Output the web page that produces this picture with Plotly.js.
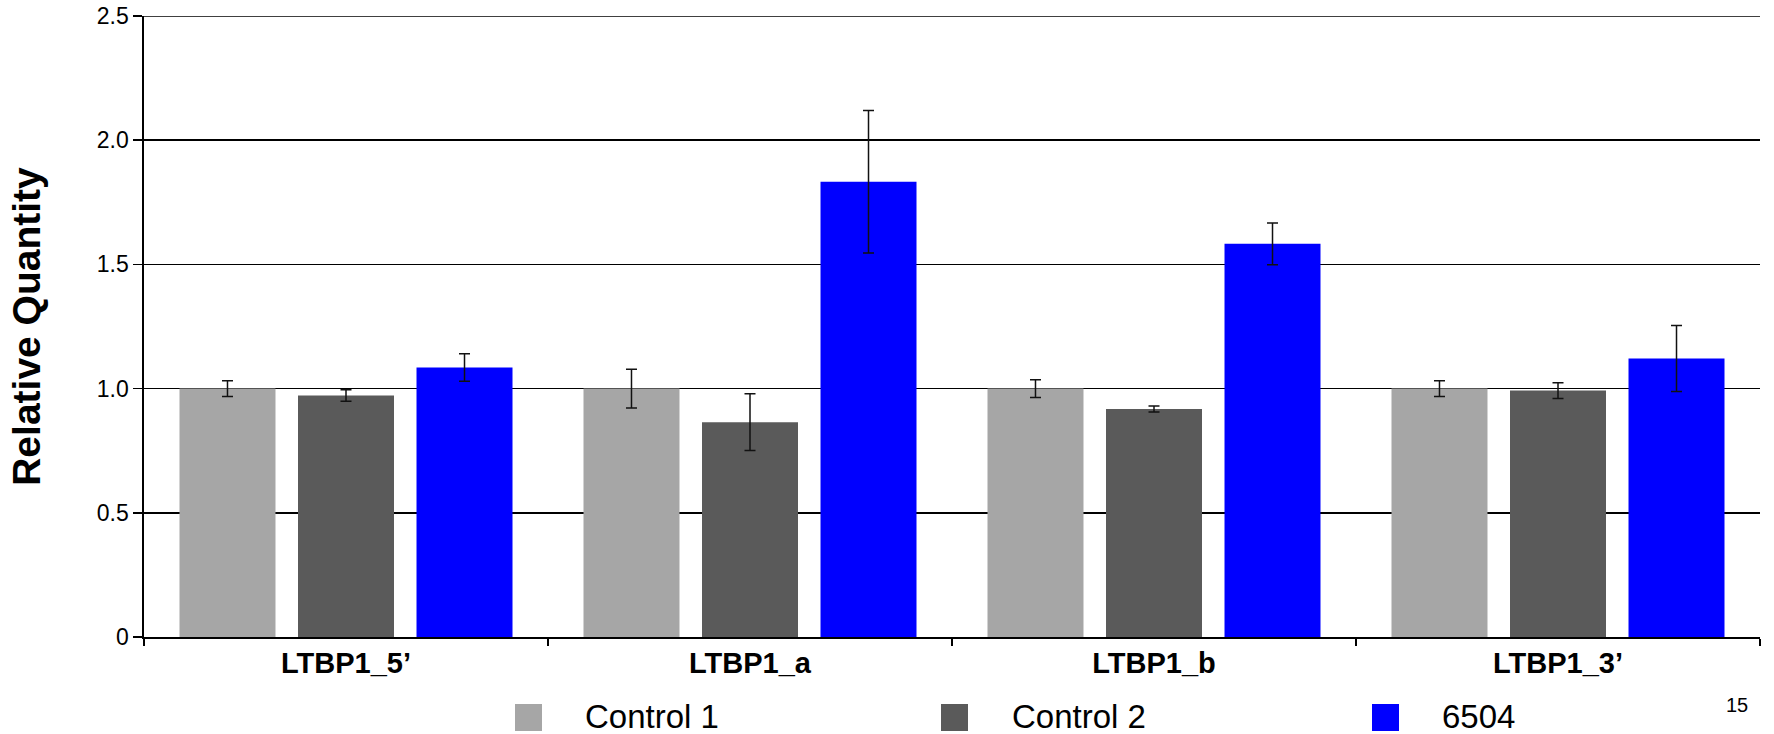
<!DOCTYPE html>
<html>
<head>
<meta charset="utf-8">
<script src="https://cdn.plot.ly/plotly-3.0.1.min.js"></script>
<style>html,body{margin:0;padding:0;background:#fff;}#chart{width:1774px;height:734px;}</style>
</head>
<body>
<div id="chart"></div>
<script>
// ---- data ----
const categories = ["LTBP1_5’", "LTBP1_a", "LTBP1_b", "LTBP1_3’"];
const seriesNames = ["Control 1", "Control 2", "6504"];
const control1 = [1.00, 1.00, 1.00, 1.00];
const control1Err = [0.032, 0.078, 0.036, 0.032];
const control2 = [0.972, 0.865, 0.918, 0.992];
const control2Err = [0.023, 0.114, 0.012, 0.032];
const s6504 = [1.085, 1.833, 1.583, 1.121];
const s6504Err = [0.055, 0.287, 0.084, 0.133];
const yTickVals = [0, 0.5, 1.0, 1.5, 2.0, 2.5];
const yTickText = ["0", "0.5", "1.0", "1.5", "2.0", "2.5"];
const yMax = 2.5;
const pageNumber = "15";

// ---- style ----
const colors = ["#a6a6a6", "#5a5a5a", "#0000ff"];
const FONT = "Liberation Sans, Arial, Helvetica, sans-serif";
const W = 1774, H = 734;
const M = {l: 144, r: 14, t: 16, b: 97};
const pw = W - M.l - M.r, ph = H - M.t - M.b;
const px = v => (v - M.l) / pw;
const py = v => (H - M.b - v) / ph;

const values = [control1, control2, s6504];
const errs = [control1Err, control2Err, s6504Err];

const traces = values.map((vals, i) => ({
  type: "bar",
  name: seriesNames[i],
  x: categories,
  y: vals,
  marker: {color: colors[i], line: {width: 0}},
  error_y: {type: "data", array: errs[i], visible: true, color: "#111", thickness: 1.5, width: 5.5},
  showlegend: false,
  hoverinfo: "x+y+name"
}));

// custom legend (large square swatches)
const legendSwatchX = [528.5, 954.5, 1385.5];
const legendTextX = [583, 1010, 1440];
const legendY = 716;
const shapes = seriesNames.map((n, i) => ({
  type: "rect", xref: "paper", yref: "paper",
  xsizemode: "pixel", ysizemode: "pixel",
  xanchor: px(legendSwatchX[i]), yanchor: py(717.5),
  x0: -13.5, x1: 13.5, y0: -13.5, y1: 13.5,
  fillcolor: colors[i], line: {width: 0}
}));
// top gridline at the upper range edge
shapes.push({
  type: "line", xref: "paper", yref: "y", x0: 0, x1: 1, y0: yMax, y1: yMax,
  line: {color: "#000", width: 1.6}
});
const annotations = seriesNames.map((n, i) => ({
  text: n, xref: "paper", yref: "paper",
  x: px(legendTextX[i]), y: py(legendY),
  xanchor: "left", yanchor: "middle", showarrow: false,
  font: {family: FONT, size: 33, color: "#000"}
}));
annotations.push({
  text: pageNumber, xref: "paper", yref: "paper",
  x: px(1737), y: py(705), xanchor: "center", yanchor: "middle",
  showarrow: false, font: {family: FONT, size: 20, color: "#000"}
});

const layout = {
  width: W, height: H,
  margin: M,
  paper_bgcolor: "#fff", plot_bgcolor: "#fff",
  barmode: "group",
  bargap: 0.12,
  bargroupgap: 0.19,
  showlegend: false,
  font: {family: FONT, color: "#000"},
  xaxis: {
    type: "category",
    range: [-0.5, 3.5],
    showline: true, linecolor: "#000", linewidth: 1.6,
    ticks: "outside", ticklen: 7, tickwidth: 1.5, tickcolor: "#000",
    tickson: "boundaries",
    showgrid: false, zeroline: false,
    tickfont: {family: FONT, size: 29, weight: "bold", color: "#000"},
    fixedrange: true
  },
  yaxis: {
    range: [0, yMax],
    tickvals: yTickVals, ticktext: yTickText,
    showline: true, linecolor: "#000", linewidth: 1.6,
    ticks: "outside", ticklen: 9, tickwidth: 1.5, tickcolor: "#000",
    showgrid: true, gridcolor: "#000", gridwidth: 1.6,
    zeroline: false,
    tickfont: {family: FONT, size: 23, color: "#000"},
    title: {text: "Relative Quantity", font: {family: FONT, size: 39, weight: "bold", color: "#000"}, standoff: 44},
    fixedrange: true
  },
  shapes: shapes,
  annotations: annotations
};

Plotly.newPlot("chart", traces, layout, {displayModeBar: false, staticPlot: true});
</script>
</body>
</html>
